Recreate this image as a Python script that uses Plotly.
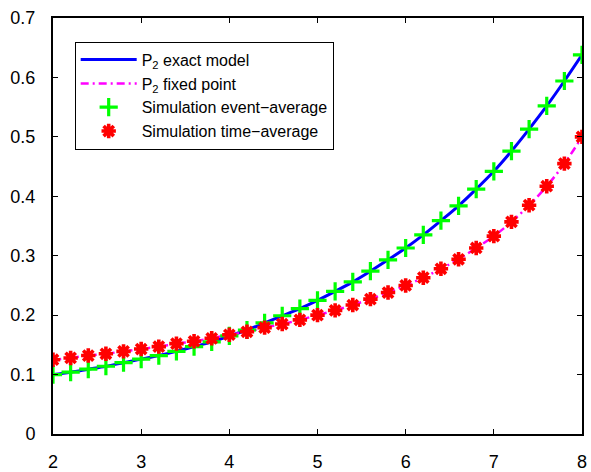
import plotly.graph_objects as go

# Arrival-rate grid shared by all four series
x_vals = [2.0, 2.2, 2.4, 2.6, 2.8, 3.0, 3.2, 3.4, 3.6, 3.8, 4.0,
          4.2, 4.4, 4.6, 4.8, 5.0, 5.2, 5.4, 5.6, 5.8, 6.0,
          6.2, 6.4, 6.6, 6.8, 7.0, 7.2, 7.4, 7.6, 7.8, 8.0]

# P2 from the exact model (also matched by the event-averaged simulation)
p2_exact = [0.100, 0.104, 0.109, 0.114, 0.120, 0.126, 0.132, 0.139, 0.147, 0.155, 0.165,
            0.175, 0.187, 0.199, 0.211, 0.225, 0.240, 0.256, 0.274, 0.293, 0.313,
            0.335, 0.359, 0.384, 0.412, 0.442, 0.476, 0.513, 0.552, 0.594, 0.638]
sim_event = [0.100, 0.104, 0.109, 0.114, 0.120, 0.126, 0.132, 0.139, 0.147, 0.155, 0.165,
             0.175, 0.187, 0.199, 0.211, 0.225, 0.240, 0.256, 0.274, 0.293, 0.313,
             0.335, 0.359, 0.384, 0.412, 0.442, 0.476, 0.513, 0.552, 0.594, 0.638]

# P2 from the fixed-point approximation (also matched by the time-averaged simulation)
p2_fixed = [0.125, 0.128, 0.132, 0.135, 0.139, 0.143, 0.147, 0.152, 0.156, 0.161, 0.167,
            0.172, 0.179, 0.185, 0.192, 0.200, 0.208, 0.217, 0.227, 0.238, 0.250,
            0.263, 0.278, 0.294, 0.313, 0.333, 0.357, 0.385, 0.417, 0.455, 0.500]
sim_time = [0.125, 0.128, 0.132, 0.135, 0.139, 0.143, 0.147, 0.152, 0.156, 0.161, 0.167,
            0.172, 0.179, 0.185, 0.192, 0.200, 0.208, 0.217, 0.227, 0.238, 0.250,
            0.263, 0.278, 0.294, 0.313, 0.333, 0.357, 0.385, 0.417, 0.455, 0.500]

x_ticks = [2, 3, 4, 5, 6, 7, 8]
y_ticks = [0, 0.1, 0.2, 0.3, 0.4, 0.5, 0.6, 0.7]
y_tick_text = ["0", "0.1", "0.2", "0.3", "0.4", "0.5", "0.6", "0.7"]

FONT = "Liberation Sans, Arial, Helvetica, sans-serif"

fig = go.Figure()

fig.add_trace(go.Scatter(
    x=x_vals, y=p2_exact, mode="lines", name="P<sub>2</sub> exact model",
    line=dict(color="#0000ff", width=3, shape="spline"),
))
fig.add_trace(go.Scatter(
    x=x_vals, y=p2_fixed, mode="lines", name="P<sub>2</sub> fixed point",
    line=dict(color="#ff00ff", width=2.5, dash="8px,4px,2px,4px", shape="spline"),
))
fig.add_trace(go.Scatter(
    x=x_vals, y=sim_event, mode="markers", name="Simulation event\u2212average",
    marker=dict(symbol="cross-thin", size=13, color="#00ff00",
                line=dict(color="#00ff00", width=3.2)),
))
fig.add_trace(go.Scatter(
    x=x_vals, y=sim_time, mode="markers", name="Simulation time\u2212average",
    marker=dict(symbol="asterisk-open", size=12, color="#ff0000",
                line=dict(color="#ff0000", width=3.6)),
))

axis_common = dict(
    showline=True, linecolor="black", linewidth=2, mirror="ticks",
    ticks="inside", ticklen=5, tickwidth=1.2, tickcolor="black",
    showgrid=False, zeroline=False, automargin=False,
    tickfont=dict(family=FONT, size=18, color="black"),
)

fig.update_xaxes(range=[2, 8], tickvals=x_ticks, ticklabelstandoff=10, **axis_common)
fig.update_yaxes(range=[0, 0.7], tickvals=y_ticks, ticktext=y_tick_text,
                 ticklabelstandoff=12, **axis_common)

fig.update_layout(
    width=591, height=472,
    margin=dict(l=53, r=9, t=18, b=38),
    paper_bgcolor="white", plot_bgcolor="white",
    font=dict(family=FONT, size=16, color="black"),
    showlegend=True,
    legend=dict(
        x=0.041, y=0.943, xanchor="left", yanchor="top",
        bgcolor="white", bordercolor="black", borderwidth=1,
        font=dict(family=FONT, size=16, color="black"),
        itemwidth=56, tracegroupgap=0,
    ),
)

fig.write_html("out.html")
